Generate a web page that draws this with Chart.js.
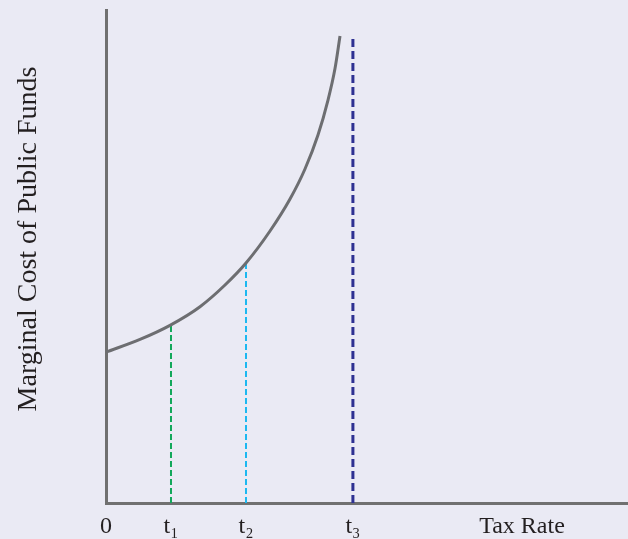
<!DOCTYPE html>
<html>
<head>
<meta charset="utf-8">
<script src="https://cdn.jsdelivr.net/npm/chart.js@4.4.1/dist/chart.umd.min.js"></script>
<style>
body { margin: 0; background: #eaeaf4; }
#wrap { width: 628px; height: 539px; }
</style>
</head>
<body>
<div id="wrap"><canvas id="mcpf"></canvas></div>
<script>
// curve (x = tax rate, y = marginal cost)
var curveX = [0, 6.51, 12.26, 18.01, 22.80, 26.82, 31.42, 35.25, 38.12, 40.61, 42.53, 43.87, 44.83];
var curveY = [30.6, 33.18, 36.04, 39.82, 44.22, 48.68, 55.17, 61.66, 67.75, 74.65, 81.74, 88.13, 94.73];

// the three tax rates and the height of their dashed lines
var rateNames = ["t₁", "t₂", "t₃"];
var rateX = [12.45, 26.82, 47.3];
var rateTop = [36.2, 48.7, 94.3];
var rateColors = ["#12a85a", "#1cb8f0", "#2e3192"];

var tickValues = [0, 12.45, 26.82, 47.3, 79.7];
var tickLabels = ["0", "t₁", "t₂", "t₃", "Tax Rate"];

var curve = [];
for (var i = 0; i < curveX.length; i++) {
    curve.push({x: curveX[i], y: curveY[i]});
}

var datasets = [{
    label: "MCPF",
    data: curve,
    borderColor: "#6d6e71",
    borderWidth: 3,
    pointRadius: 0,
    cubicInterpolationMode: "monotone",
    fill: false
}];

for (var j = 0; j < rateX.length; j++) {
    datasets.push({
        label: rateNames[j],
        data: [{x: rateX[j], y: 0}, {x: rateX[j], y: rateTop[j]}],
        borderColor: rateColors[j],
        borderWidth: j == 2 ? 3 : 2,
        borderDash: j == 2 ? [8, 4] : [6, 3],
        pointRadius: 0,
        fill: false
    });
}

var ctx = document.getElementById("mcpf").getContext("2d");
var chart = new Chart(ctx, {
    type: "line",
    data: { datasets: datasets },
    options: {
        responsive: true,
        maintainAspectRatio: false,
        animation: false,
        layout: { padding: { top: 10, right: 0, left: 0, bottom: 0 } },
        plugins: {
            legend: { display: false },
            tooltip: { enabled: false }
        },
        scales: {
            x: {
                type: "linear",
                min: 0,
                max: 100,
                grid: { display: false, drawTicks: false },
                border: { color: "#707070", width: 3 },
                afterBuildTicks: function (scale) {
                    scale.ticks = tickValues.map(function (v) { return {value: v}; });
                },
                afterFit: function (scale) { scale.height = 36; },
                ticks: {
                    autoSkip: false,
                    maxRotation: 0,
                    padding: 9,
                    color: "#231f20",
                    font: { family: "Liberation Serif", size: 24 },
                    callback: function (value, index) { return tickLabels[index]; }
                }
            },
            y: {
                type: "linear",
                min: 0,
                max: 100,
                grid: { display: false, drawTicks: false },
                border: { color: "#707070", width: 3 },
                afterFit: function (scale) { scale.width = 106; },
                ticks: { display: false },
                title: {
                    display: true,
                    // leading spaces nudge the title up a little, as in the original
                    text: "     Marginal Cost of Public Funds",
                    color: "#231f20",
                    font: { family: "Liberation Serif", size: 28 },
                    padding: { top: 12, bottom: 0 }
                }
            }
        }
    }
});
</script>
</body>
</html>
